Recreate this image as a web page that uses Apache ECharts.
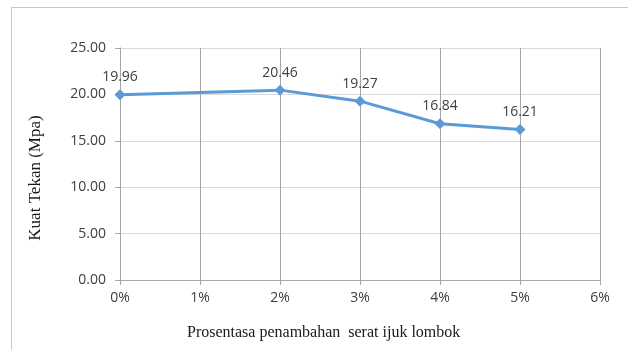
<!DOCTYPE html>
<html>
<head>
<meta charset="utf-8">
<style>
  html, body { margin: 0; padding: 0; background: #ffffff; }
  #chart { width: 628px; height: 350px; }
</style>
<script src="https://cdn.jsdelivr.net/npm/echarts@6/dist/echarts.min.js"></script>
</head>
<body>
<div id="chart"></div>
<script>
// Fibre content (%) and compressive strength (MPa)
const fibrePercent = [0, 2, 3, 4, 5];
const strengthMpa = [19.96, 20.46, 19.27, 16.84, 16.21];
const xTicks = [0, 1, 2, 3, 4, 5, 6];
const yTicks = [0, 5, 10, 15, 20, 25];
const xTitle = 'Prosentasa penambahan  serat ijuk lombok';
const yTitle = 'Kuat Tekan (Mpa)';

const chart = echarts.init(document.getElementById('chart'), null, { renderer: 'canvas' });

const labelFont = '"Open Sans", "Noto Sans", sans-serif';
const serifFont = '"Liberation Serif", "DejaVu Serif", serif';

chart.setOption({
  animation: false,
  backgroundColor: '#ffffff',
  grid: { left: 120, right: 28, top: 48, bottom: 70, containLabel: false },
  graphic: [
    {
      type: 'rect',
      shape: { x: 11.5, y: 7.5, width: 640, height: 360 },
      style: { fill: 'none', stroke: '#c8c8c8', lineWidth: 1 },
      silent: true
    },
    {
      type: 'text',
      left: 321 - 134, top: 325,
      style: { text: xTitle, font: '16px ' + serifFont, fill: '#1a1a1a' },
      silent: true
    },
    {
      type: 'text',
      x: 36, y: 178,
      rotation: Math.PI / 2,
      style: {
        text: yTitle, font: '17px ' + serifFont, fill: '#1a1a1a',
        align: 'center', verticalAlign: 'middle'
      },
      silent: true
    }
  ],
  xAxis: {
    type: 'value',
    min: xTicks[0],
    max: xTicks[xTicks.length - 1],
    interval: 1,
    axisLine: { show: true, lineStyle: { color: '#a6a6a6', width: 1 } },
    axisTick: { show: true, length: 5, lineStyle: { color: '#a6a6a6' } },
    axisLabel: {
      fontFamily: labelFont, fontSize: 14, color: '#404040', margin: 11,
      formatter: v => v + '%'
    },
    splitLine: { show: true, lineStyle: { color: '#a6a6a6', width: 1 } }
  },
  yAxis: {
    type: 'value',
    min: yTicks[0],
    max: yTicks[yTicks.length - 1],
    interval: 5,
    axisLine: { show: true, lineStyle: { color: '#a6a6a6', width: 1 } },
    axisTick: { show: true, length: 5, lineStyle: { color: '#a6a6a6' } },
    axisLabel: {
      fontFamily: labelFont, fontSize: 14, color: '#404040', margin: 14,
      formatter: v => v.toFixed(2)
    },
    splitLine: { show: true, lineStyle: { color: '#d9d9d9', width: 1 } }
  },
  series: [
    {
      type: 'line',
      data: fibrePercent.map((x, i) => [x, strengthMpa[i]]),
      symbol: 'diamond',
      symbolSize: 11,
      lineStyle: { color: '#5b9bd5', width: 3 },
      itemStyle: { color: '#5b9bd5' },
      label: {
        show: true,
        position: 'top',
        distance: 5,
        fontFamily: labelFont,
        fontSize: 14,
        color: '#404040',
        formatter: p => p.value[1].toFixed(2)
      }
    }
  ]
});
</script>
</body>
</html>
